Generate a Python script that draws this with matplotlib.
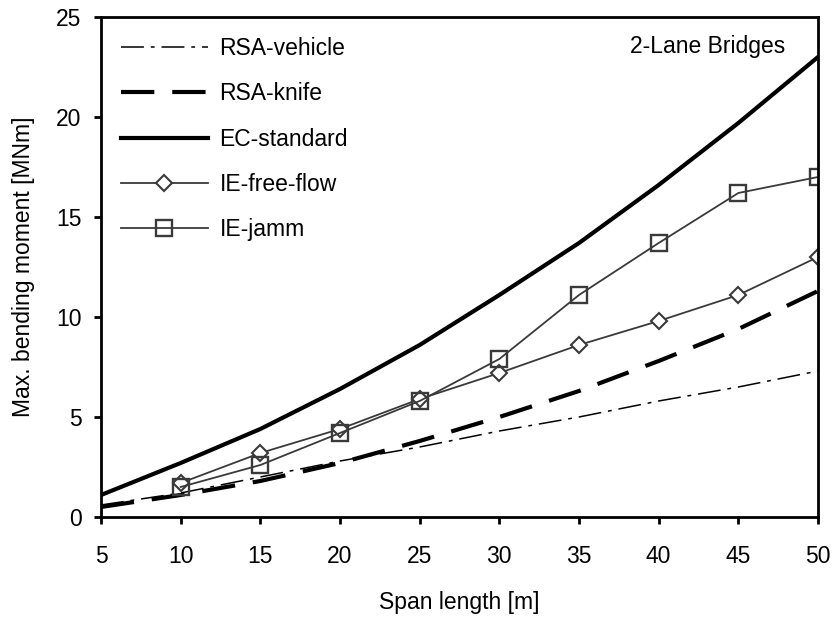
import matplotlib
matplotlib.use("Agg")
import matplotlib.pyplot as plt

plt.rcParams['font.family'] = ['Liberation Sans', 'DejaVu Sans']

span = [5, 10, 15, 20, 25, 30, 35, 40, 45, 50]
span_ie = [10, 15, 20, 25, 30, 35, 40, 45, 50]

rsa_vehicle = [0.6, 1.2, 2.0, 2.8, 3.5, 4.3, 5.0, 5.8, 6.5, 7.3]
rsa_knife = [0.5, 1.1, 1.8, 2.7, 3.8, 5.0, 6.3, 7.8, 9.4, 11.3]
ec_standard = [1.1, 2.7, 4.4, 6.4, 8.6, 11.1, 13.7, 16.6, 19.7, 23.0]
ie_free_flow = [1.7, 3.2, 4.4, 5.9, 7.2, 8.6, 9.8, 11.1, 13.0]
ie_jamm = [1.5, 2.6, 4.2, 5.8, 7.9, 11.1, 13.7, 16.2, 17.0]

fs = 16.5
grey = '#3a3a3a'

fig = plt.figure(figsize=(8.36, 6.21), dpi=100)
ax = fig.add_axes([101 / 836, 1 - 517 / 621, 717 / 836, 500 / 621])

ax.plot(span, rsa_vehicle, color='black', lw=1.1, dashes=(15, 4.5, 2.5, 4.5), label='RSA-vehicle')
ax.plot(span, rsa_knife, color='black', lw=3.0, dashes=(8, 4.3), label='RSA-knife')
ax.plot(span, ec_standard, color='black', lw=3.0, label='EC-standard')
ax.plot(span_ie, ie_free_flow, color=grey, lw=1.3, marker='D', ms=8,
        mfc='white', mec=grey, mew=1.5, label='IE-free-flow')
ax.plot(span_ie, ie_jamm, color=grey, lw=1.3, marker='s', ms=11,
        mfc='none', mec=grey, mew=1.7, label='IE-jamm')

ax.set_xlim(5, 50)
ax.set_ylim(0, 25)
ax.set_xticks(span)
ax.set_yticks([0, 5, 10, 15, 20, 25])
ax.tick_params(direction='out', length=5, width=2, labelsize=fs)
ax.tick_params(axis='x', pad=15)
ax.tick_params(axis='y', pad=9)
for s in ax.spines.values():
    s.set_linewidth(2)

ax.set_xlabel('Span length [m]', fontsize=fs, labelpad=17)
ax.set_ylabel('Max. bending moment [MNm]', fontsize=fs, labelpad=15)

ax.text(0.954, 0.94, '2-Lane Bridges', transform=ax.transAxes, ha='right', va='center', fontsize=fs)

ax.legend(loc='upper left', bbox_to_anchor=(0.015, 0.979), frameon=False, fontsize=fs,
          handlelength=3.8, labelspacing=0.98, borderaxespad=0, handletextpad=0.5)

fig.savefig('out.png', dpi=100)
